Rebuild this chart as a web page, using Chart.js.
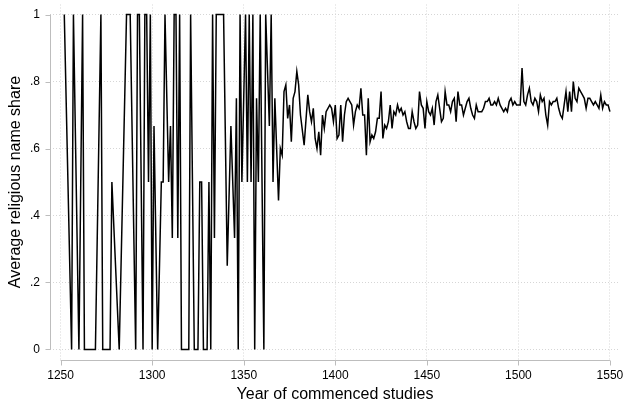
<!DOCTYPE html>
<html>
<head>
<meta charset="utf-8">
<script src="https://cdn.jsdelivr.net/npm/chart.js@4"></script>
<style>
  html, body { margin: 0; padding: 0; background: #fff; }
  #wrap { width: 625px; height: 401px; }
</style>
</head>
<body>
<div id="wrap"><canvas id="chart"></canvas></div>
<script>
'use strict';

// year of commenced studies (sparse before ~1367, yearly after)
const years = [
  1252, 1256, 1257, 1260, 1262, 1263, 1269, 1272, 1273, 1277, 1278, 1282,
  1286, 1288, 1291, 1292, 1293, 1295, 1296, 1297, 1298, 1299, 1300, 1301,
  1303, 1305, 1306, 1307, 1309, 1310, 1311, 1312, 1313, 1314, 1315, 1316,
  1320, 1321, 1323, 1325, 1326, 1327, 1328, 1330, 1331, 1332, 1333, 1334,
  1335, 1339, 1341, 1343, 1345, 1346, 1347, 1348, 1349, 1351, 1352, 1353,
  1354, 1355, 1356, 1357, 1358, 1359, 1361, 1362, 1364, 1365, 1366,
  1367, 1369, 1370, 1371, 1372, 1373, 1374, 1375, 1376, 1377, 1378, 1379,
  1380, 1381, 1383, 1385, 1386, 1387, 1388, 1389, 1390, 1391, 1392, 1393,
  1394, 1395, 1396, 1397, 1398, 1399, 1400, 1401, 1402, 1403, 1404, 1405,
  1406, 1407, 1409, 1410, 1411, 1412, 1413, 1414, 1415, 1416, 1417, 1418,
  1419, 1420, 1421, 1422, 1423, 1424, 1425, 1426, 1427, 1428, 1429, 1430,
  1431, 1432, 1433, 1434, 1435, 1436, 1437, 1438, 1439, 1440, 1441, 1442,
  1443, 1444, 1445, 1446, 1447, 1448, 1449, 1450, 1451, 1452, 1453, 1454,
  1455, 1456, 1457, 1458, 1459, 1460, 1461, 1462, 1463, 1464, 1465, 1466,
  1467, 1468, 1469, 1470, 1471, 1472, 1473, 1474, 1475, 1476, 1477, 1478,
  1479, 1480, 1481, 1482, 1483, 1484, 1485, 1486, 1487, 1488, 1489, 1490,
  1491, 1492, 1493, 1494, 1495, 1496, 1497, 1498, 1499, 1500, 1501, 1502,
  1503, 1504, 1505, 1506, 1507, 1508, 1509, 1510, 1511, 1512, 1513, 1514,
  1515, 1516, 1517, 1518, 1519, 1520, 1521, 1522, 1523, 1524, 1525, 1526,
  1527, 1528, 1529, 1530, 1531, 1532, 1533, 1534, 1535, 1536, 1537, 1538,
  1539, 1540, 1541, 1542, 1543, 1544, 1545, 1546, 1547, 1548, 1549, 1550
];

// average religious name share per year
const shares = [
  1, 0, 1, 0, 1, 0, 0, 1, 0, 0, 0.5, 0,
  1, 1, 0, 1, 1, 0, 1, 1, 0.5, 1, 0, 0.667,
  0, 0.5, 0.5, 1, 0.5, 0.667, 0.333, 1, 1, 0.333, 1, 0,
  0, 1, 0, 0, 0.5, 0.5, 0, 0, 0.5, 0, 1, 0.333,
  1, 1, 0.25, 0.667, 0.333, 0.75, 0, 1, 0.5, 1, 0.5, 1,
  0.5, 1, 0, 0.75, 0.5, 1, 0, 1, 0.667, 1, 0.5,
  0.75, 0.445, 0.60, 0.58, 0.77, 0.79, 0.69, 0.73, 0.62, 0.75, 0.77, 0.83,
  0.79, 0.70, 0.61, 0.76, 0.71, 0.68, 0.72, 0.63, 0.60, 0.65, 0.58, 0.70,
  0.66, 0.71, 0.72, 0.73, 0.72, 0.68, 0.73, 0.63, 0.64, 0.73, 0.62, 0.70,
  0.74, 0.75, 0.73, 0.67, 0.71, 0.73, 0.72, 0.78, 0.70, 0.70, 0.58, 0.75,
  0.62, 0.64, 0.63, 0.65, 0.69, 0.69, 0.77, 0.63, 0.67, 0.66, 0.68, 0.73,
  0.66, 0.71, 0.70, 0.73, 0.71, 0.72, 0.70, 0.71, 0.68, 0.66, 0.66, 0.71,
  0.68, 0.66, 0.67, 0.77, 0.73, 0.72, 0.66, 0.74, 0.71, 0.70, 0.72, 0.67,
  0.74, 0.76, 0.72, 0.68, 0.69, 0.77, 0.73, 0.73, 0.71, 0.74, 0.75, 0.68,
  0.77, 0.73, 0.73, 0.70, 0.72, 0.74, 0.75, 0.72, 0.70, 0.69, 0.73, 0.71,
  0.71, 0.71, 0.72, 0.74, 0.74, 0.75, 0.73, 0.73, 0.74, 0.73, 0.75, 0.73,
  0.72, 0.71, 0.72, 0.71, 0.74, 0.75, 0.73, 0.74, 0.73, 0.73, 0.73, 0.84,
  0.74, 0.73, 0.76, 0.78, 0.74, 0.73, 0.75, 0.74, 0.71, 0.76, 0.74, 0.75,
  0.70, 0.67, 0.74, 0.73, 0.74, 0.74, 0.75, 0.72, 0.70, 0.69, 0.73, 0.77,
  0.71, 0.77, 0.71, 0.80, 0.75, 0.74, 0.78, 0.77, 0.76, 0.75, 0.72, 0.75,
  0.75, 0.74, 0.73, 0.74, 0.73, 0.72, 0.76, 0.72, 0.74, 0.73, 0.73, 0.71
];

const xTicks = [1250, 1300, 1350, 1400, 1450, 1500, 1550];
const yTicks = [0, 0.2, 0.4, 0.6, 0.8, 1];
const yTickLabels = ['0', '.2', '.4', '.6', '.8', '1'];

const FONT = "'Liberation Sans', Arial, sans-serif";
const AXIS_GREY = '#bdbdbd';
const GRID_GREY = '#d6d6d6';

// stata-like axis lines: only across the tick range, ticks pointing out
const stataAxes = {
  id: 'stataAxes',
  afterDraw(chart) {
    const { ctx, chartArea, scales } = chart;
    const x = scales.x, y = scales.y;
    const left = Math.round(chartArea.left) + 0.5;
    const bottom = Math.round(chartArea.bottom) + 0.5;
    ctx.save();
    ctx.strokeStyle = AXIS_GREY;
    ctx.lineWidth = 1;
    ctx.beginPath();
    ctx.moveTo(left, y.getPixelForValue(yTicks[0]));
    ctx.lineTo(left, y.getPixelForValue(yTicks[yTicks.length - 1]));
    yTicks.forEach(v => {
      const py = Math.round(y.getPixelForValue(v)) + 0.5;
      ctx.moveTo(left - 5, py);
      ctx.lineTo(left, py);
    });
    ctx.moveTo(x.getPixelForValue(xTicks[0]), bottom);
    ctx.lineTo(x.getPixelForValue(xTicks[xTicks.length - 1]), bottom);
    xTicks.forEach(v => {
      const px = Math.round(x.getPixelForValue(v)) + 0.5;
      ctx.moveTo(px, bottom);
      ctx.lineTo(px, bottom + 5);
    });
    ctx.stroke();
    ctx.restore();
  }
};

// keep the plot area fixed: no extra room for labels that overhang the ends
const noOverhang = s => {
  s.paddingTop = 0;
  s.paddingBottom = 0;
  s.paddingLeft = 0;
  s.paddingRight = 0;
};

const ctx = document.getElementById('chart').getContext('2d');
new Chart(ctx, {
  type: 'line',
  data: {
    datasets: [
      {
        data: years.map((yr, i) => ({ x: yr, y: shares[i] })),
        borderColor: '#000',
        borderWidth: 1.5,
        pointRadius: 0,
        tension: 0,
        fill: false,
      },
    ],
  },
  options: {
    responsive: true,
    maintainAspectRatio: false,
    animation: false,
    layout: { padding: { top: 4.5, right: 5, bottom: 0, left: 0 } },
    plugins: {
      legend: { display: false },
      tooltip: { enabled: false },
    },
    scales: {
      x: {
        type: 'linear',
        min: 1244.2,
        max: 1555.5,
        afterBuildTicks: s => { s.ticks = xTicks.map(v => ({ value: v })); },
        afterFit: s => { s.height = 41.5; noOverhang(s); },
        ticks: {
          autoSkip: false,
          maxRotation: 0,
          padding: 9,
          color: '#000',
          font: { family: FONT, size: 12 },
          callback: v => String(v),
        },
        grid: {
          color: GRID_GREY,
          lineWidth: 1,
          drawTicks: false,
        },
        border: { display: false, dash: [1, 2] },
        title: {
          display: true,
          text: 'Year of commenced studies',
          color: '#000',
          font: { family: FONT, size: 16, lineHeight: 1 },
          padding: { top: 0, bottom: -1.5 },
        },
      },
      y: {
        type: 'linear',
        min: -0.03,
        max: 1.03,
        afterBuildTicks: s => { s.ticks = yTicks.map(v => ({ value: v })); },
        afterFit: s => { s.width = 50; noOverhang(s); },
        ticks: {
          autoSkip: false,
          padding: 10,
          color: '#000',
          font: { family: FONT, size: 12 },
          callback: (v, i) => yTickLabels[i],
        },
        grid: {
          color: GRID_GREY,
          lineWidth: 1,
          drawTicks: false,
        },
        border: { display: false, dash: [1, 2] },
        title: {
          display: true,
          text: 'Average religious name share',
          color: '#000',
          font: { family: FONT, size: 16, lineHeight: 1 },
          padding: { top: 8, bottom: 0 },
        },
      },
    },
  },
  plugins: [stataAxes],
});
</script>
</body>
</html>
